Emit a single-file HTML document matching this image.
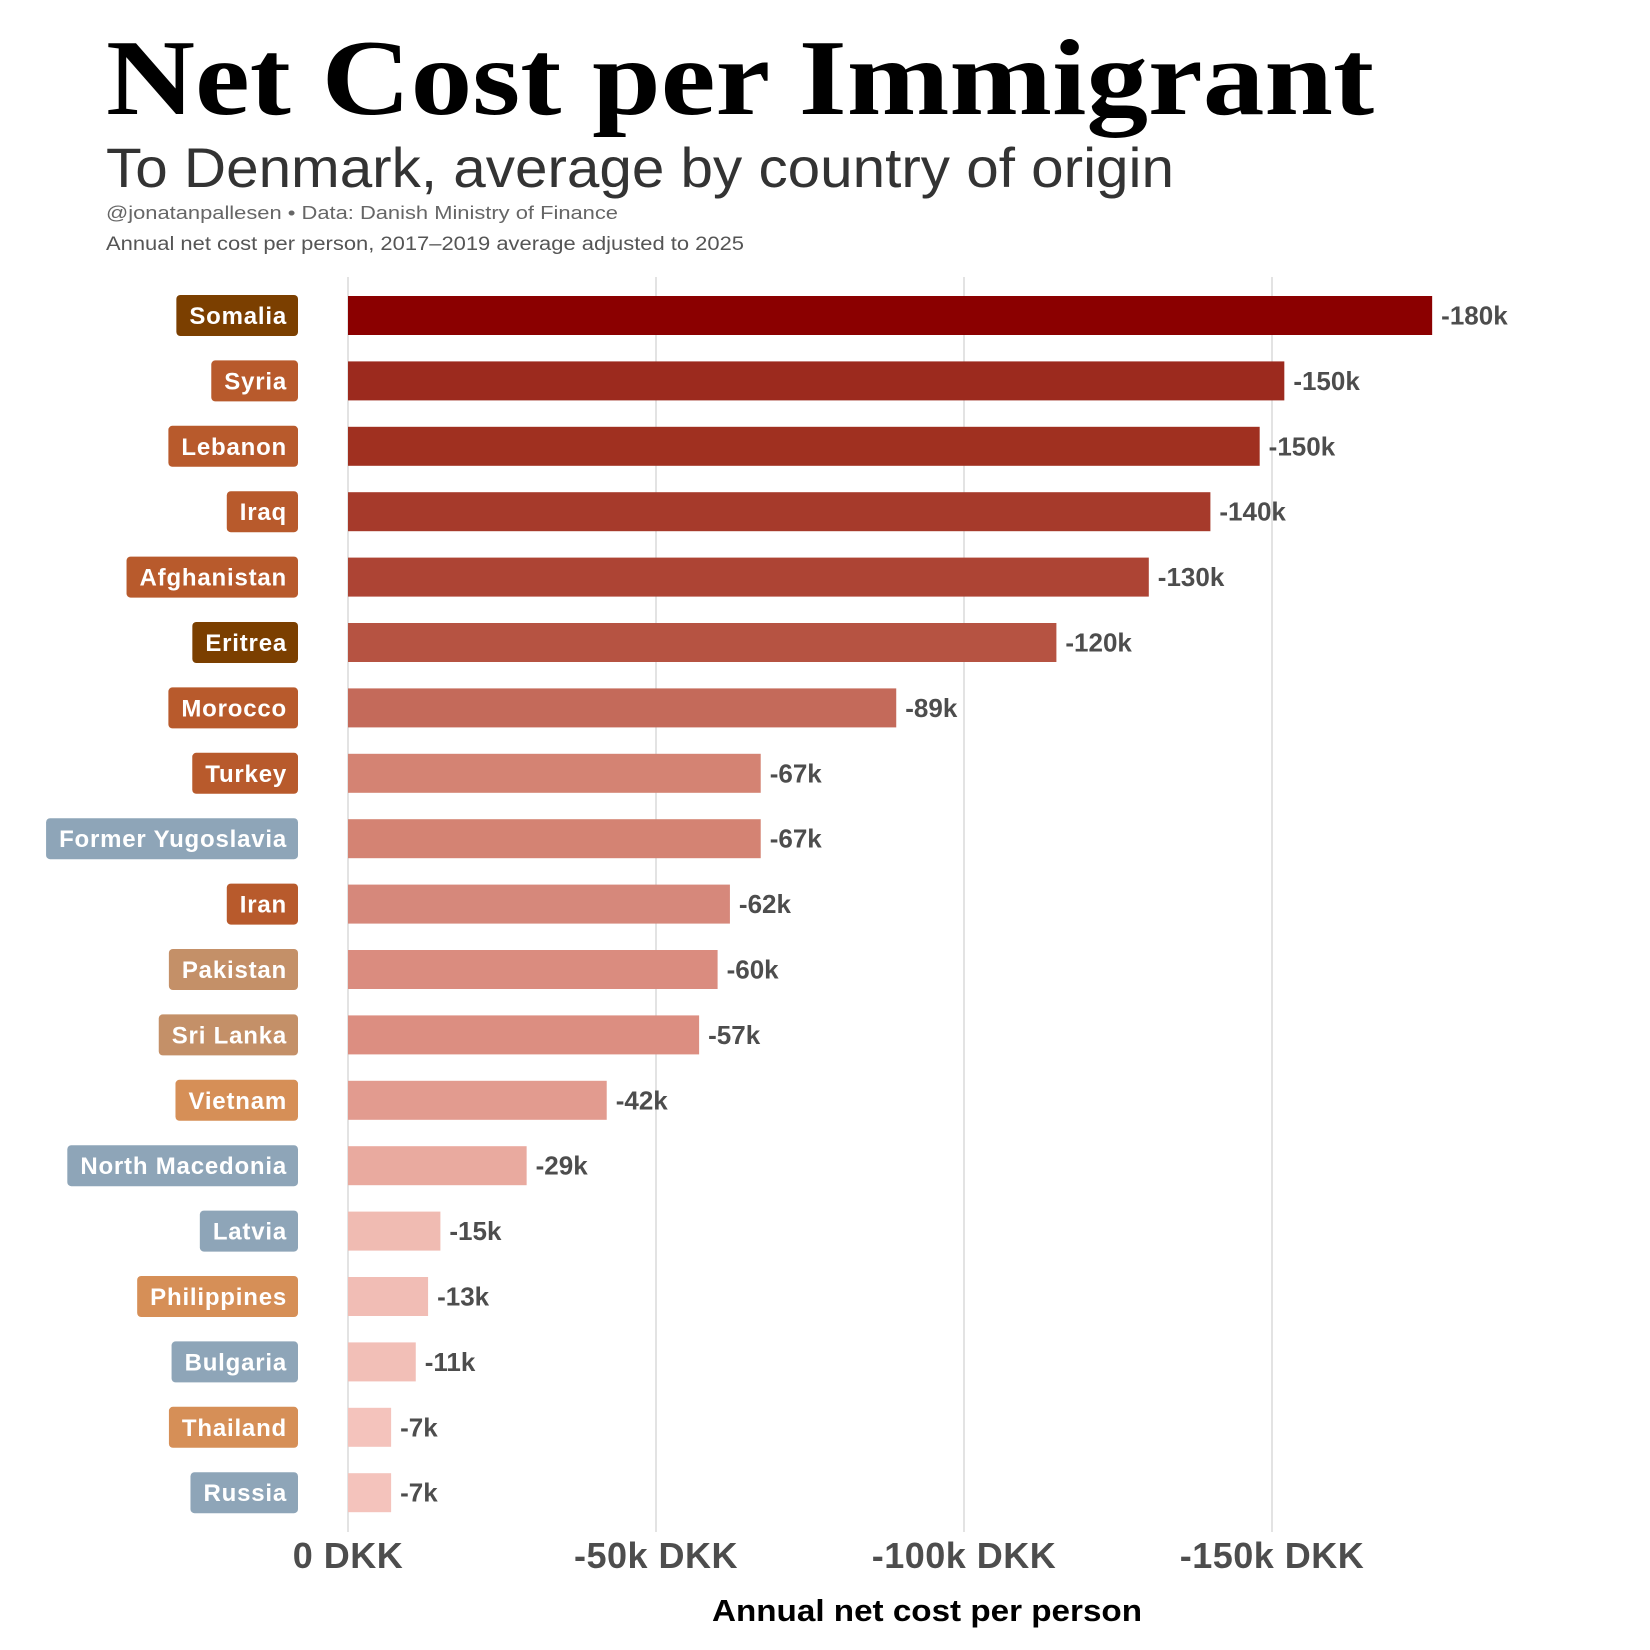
<!DOCTYPE html>
<html><head><meta charset="utf-8"><style>
html,body{margin:0;padding:0;background:#fff;}
svg{display:block;}
text{font-family:"Liberation Sans",Arial,sans-serif;}
</style></head><body>
<svg id="chart" width="1650" height="1650" viewBox="0 0 1650 1650" xmlns="http://www.w3.org/2000/svg">
<text x="106" y="114" font-weight="bold" font-size="108" fill="#000" textLength="1268" lengthAdjust="spacingAndGlyphs" style="font-family:'Liberation Serif',serif">Net Cost per Immigrant</text>
<text x="106" y="187" font-size="56" fill="#333" textLength="1068" lengthAdjust="spacingAndGlyphs">To Denmark, average by country of origin</text>
<text x="106" y="219" font-size="18" fill="#666" textLength="512" lengthAdjust="spacingAndGlyphs">@jonatanpallesen • Data: Danish Ministry of Finance</text>
<text x="106" y="250" font-size="19" fill="#555" textLength="638" lengthAdjust="spacingAndGlyphs">Annual net cost per person, 2017–2019 average adjusted to 2025</text>
<g id="grid"></g><g id="bars"></g><g id="labels"></g><g id="axis"></g>
<text x="927" y="1621" text-anchor="middle" font-size="31" font-weight="bold" fill="#000" textLength="430" lengthAdjust="spacingAndGlyphs">Annual net cost per person</text>
</svg>
<script>
const countries=["Somalia","Syria","Lebanon","Iraq","Afghanistan","Eritrea","Morocco","Turkey","Former Yugoslavia","Iran","Pakistan","Sri Lanka","Vietnam","North Macedonia","Latvia","Philippines","Bulgaria","Thailand","Russia"];
const values=[176,152,148,140,130,115,89,67,67,62,60,57,42,29,15,13,11,7,7];
const valueLabels=["-180k","-150k","-150k","-140k","-130k","-120k","-89k","-67k","-67k","-62k","-60k","-57k","-42k","-29k","-15k","-13k","-11k","-7k","-7k"];
const regions=["ea","me","me","me","me","ea","me","me","eu","me","sa","sa","se","eu","eu","se","eu","se","eu"];
const ticks=[0,50,100,150];
const tickLabels=["0 DKK","-50k DKK","-100k DKK","-150k DKK"];
const barColors=["#8b0000","#9c2a1e","#a03020","#a63a2b","#ad4434","#b65342","#c46a5a","#d48373","#d48373","#d6887b","#da8c7f","#dc8e81","#e29b8f","#e9aa9f","#f0bbb2","#f1bdb5","#f2bfb7","#f4c3bc","#f4c3bc"];
const regionColors={ea:"#7b3f00",me:"#b85a2c",eu:"#8ea5b8",sa:"#c49068",se:"#d68f57"};
const NS="http://www.w3.org/2000/svg";
const x0=348,pxPerK=6.16;
function xs(v){return x0+v*pxPerK;}
function yc(i){return 315.5+i*65.4;}
function mk(tag,attrs,parent){const e=document.createElementNS(NS,tag);for(const k in attrs)e.setAttribute(k,attrs[k]);document.getElementById(parent).appendChild(e);return e;}
ticks.forEach((t,i)=>{
  const g=mk("line",{x1:xs(t),x2:xs(t),y1:277,y2:1532,stroke:"#e3e3e3","stroke-width":2},"grid");
  
  
  const tl=mk("text",{x:xs(t),y:1568,"text-anchor":"middle","font-size":36,"font-weight":"bold",fill:"#4d4d4d","letter-spacing":"0.5"},"axis");
  tl.textContent=tickLabels[i];
  
  
});
countries.forEach((c,i)=>{
  const y=yc(i);
  const b=mk("rect",{x:x0,y:y-19.5,width:xs(values[i])-x0,height:39,fill:barColors[i]},"bars");
  
  
  const v=mk("text",{x:xs(values[i])+9,y:y+9,"font-size":26,"font-weight":"bold",fill:"#4d4d4d"},"bars");
  v.textContent=valueLabels[i];
  
  
  const t=mk("text",{x:287,y:y+8.5,"text-anchor":"end","font-size":24,"font-weight":"bold",fill:"#fff","letter-spacing":"0.8"},"labels");
  t.textContent=c;
  const w=t.getComputedTextLength();
  const r=mk("rect",{x:287-w-13,y:y-20.5,width:w+24,height:41,rx:4,fill:regionColors[regions[i]]},"labels");
  
  
  document.getElementById("labels").appendChild(t);
  
  
});
</script>
</body></html>
